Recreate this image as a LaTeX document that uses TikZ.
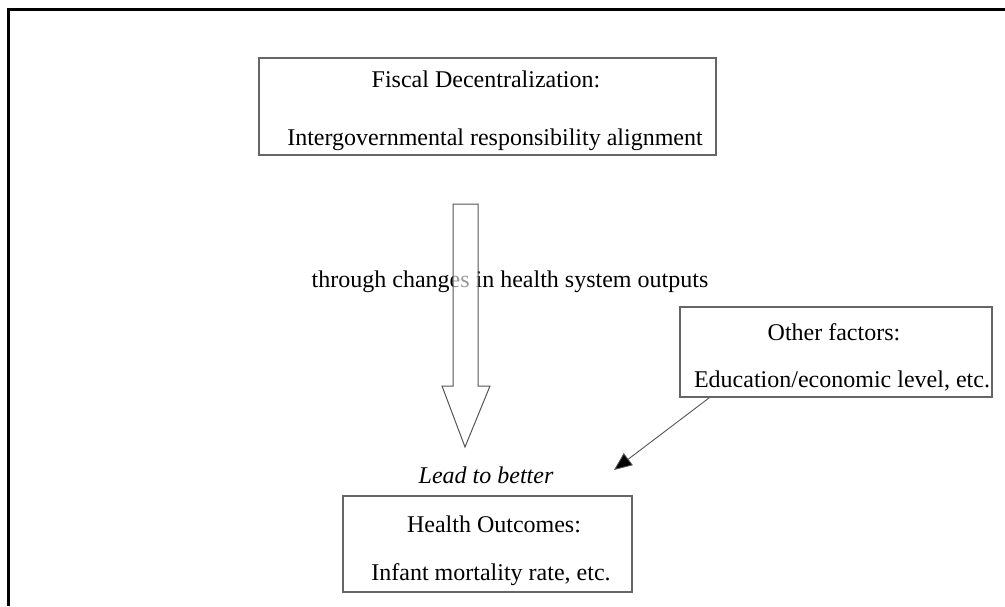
\documentclass[tikz,border=0pt]{standalone}
\usepackage{fontspec}
\setmainfont{Liberation Serif}
\usetikzlibrary{arrows.meta,calc}
\tikzset{
  boxnode/.style={draw=boxgray, line width=1.5pt, inner sep=0pt},
  txt/.style={anchor=base, inner sep=0pt, font=\fontsize{24}{24}\selectfont},
}
\definecolor{boxgray}{HTML}{666666}
\definecolor{linegray}{HTML}{555555}
\begin{document}
\begin{tikzpicture}[x=1pt,y=-1pt]
\useasboundingbox (0,0) rectangle (1005,606);
% outer frame
\draw[line width=3pt] (1005,9) -- (8,9) -- (8,606);
% boxes
\node[boxnode, minimum width=457pt, minimum height=97pt] (fd) at (487.5,106.5) {};
\node[boxnode, minimum width=312pt, minimum height=90pt] (of) at (836,352) {};
\node[boxnode, minimum width=289pt, minimum height=96pt] (ho) at (487.5,544) {};
% texts
\node[txt] (fd1) at (486,87) {Fiscal Decentralization:};
\node[txt] (fd2) at (495,145) {Intergovernmental responsibility alignment};
\node[txt] (of1) at (834,340) {Other factors:};
\node[txt] (of2) at (842,387) {Education/economic level, etc.};
\node[txt] (ho1) at (494,532) {Health Outcomes:};
\node[txt] (ho2) at (491,580) {Infant mortality rate, etc.};
\node[txt, font=\fontsize{24}{24}\selectfont\itshape] (lead) at (486,483) {Lead to better};
\node[txt] (thr) at (510,287) {through changes in health system outputs};
% hollow block arrow
\draw[draw=linegray, line width=1pt, fill=white, fill opacity=0.6]
  (453,204) -- (478,204) -- (478,386) -- (490,386) -- (465,447)
  -- (442,386) -- (453,386) -- cycle;
% other factors arrow
\coordinate (oftip) at (614,470);
\draw[draw=linegray, line width=0.9pt, -{Triangle[length=18pt,width=15pt,fill=black]}]
  ($(of.south west)+(30,0)$) -- (oftip);
\end{tikzpicture}
\end{document}
